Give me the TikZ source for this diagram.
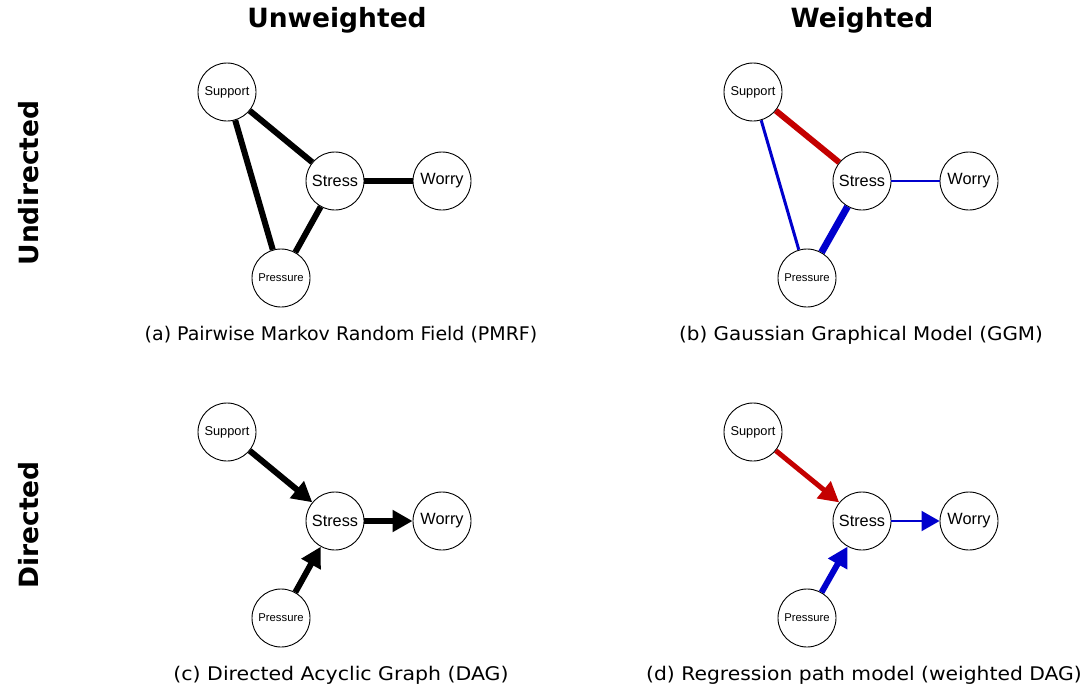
\documentclass[tikz,border=0pt]{standalone}
\usepackage{fontspec}
\usepackage{graphicx}
\setmainfont{DejaVu Sans}
\newfontfamily\arialfont{Liberation Sans}
\usetikzlibrary{arrows.meta}
\definecolor{wred}{RGB}{196,0,0}
\definecolor{wblue}{RGB}{0,0,205}
\newcommand{\capwide}[2]{\scalebox{#1}[1]{#2}}
\tikzset{
  var/.style={circle,draw=black,line width=0.9pt,minimum size=58pt,inner sep=0pt,font=\arialfont\fontsize{16.3}{18}\selectfont},
  supvar/.style={var,font=\arialfont\fontsize{12.8}{14}\selectfont},
  presvar/.style={var,font=\arialfont\fontsize{11.3}{13}\selectfont},
  heading/.style={font=\bfseries\fontsize{26.5}{30}\selectfont},
  caption/.style={font=\fontsize{18.8}{22}\selectfont},
  edge/.style={line width=6pt},
  arr/.style={-{Triangle[length=20pt,width=21pt]}},
}
\begin{document}
\begin{tikzpicture}[x=1pt,y=-1pt]
\useasboundingbox (0,0) rectangle (1088,686);
% headings
\node[heading] (hU) at (337,20) {Unweighted};
\node[heading] (hW) at (862,20) {Weighted};
\node[heading,rotate=90] (hUd) at (29,183) {Undirected};
\node[heading,rotate=90] (hD) at (29,525) {Directed};
% (a)
\node[supvar] (aS) at (227,92) {Support};
\node[var] (aT) at (335,181) {Stress};
\node[var] (aW) at (442,181) {Worry};
\node[presvar] (aP) at (281,278) {Pressure};
\draw[edge] (aS) -- (aT);
\draw[edge] (aS) -- (aP);
\draw[edge] (aT) -- (aP);
\draw[edge] (aT) -- (aW);
\node[caption] (ca) at (341,335) {\capwide{1.01}{(a) Pairwise Markov Random Field (PMRF)}};
% (b)
\node[supvar] (bS) at (753,92) {Support};
\node[var] (bT) at (862,181) {Stress};
\node[var] (bW) at (969,181) {Worry};
\node[presvar] (bP) at (807,278) {Pressure};
\draw[wred,line width=6pt] (bS) -- (bT);
\draw[wblue,line width=3pt] (bS) -- (bP);
\draw[wblue,line width=7pt] (bT) -- (bP);
\draw[wblue,line width=1.6pt] (bT) -- (bW);
\node[caption] (cb) at (861,335) {\capwide{1.06}{(b) Gaussian Graphical Model (GGM)}};
% (c)
\node[supvar] (cS) at (227,432) {Support};
\node[var] (cT) at (335,521) {Stress};
\node[var] (cW) at (442,521) {Worry};
\node[presvar] (cP) at (281,618) {Pressure};
\draw[edge,arr] (cS) -- (cT);
\draw[edge,arr] (cP) -- (cT);
\draw[edge,arr] (cT) -- (cW);
\node[caption] (cc) at (341,675) {\capwide{1.09}{(c) Directed Acyclic Graph (DAG)}};
% (d)
\node[supvar] (dS) at (753,432) {Support};
\node[var] (dT) at (862,521) {Stress};
\node[var] (dW) at (969,521) {Worry};
\node[presvar] (dP) at (807,618) {Pressure};
\draw[wred,line width=5pt,arr] (dS) -- (dT);
\draw[wblue,line width=6pt,arr] (dP) -- (dT);
\draw[wblue,line width=2pt,-{Triangle[length=18pt,width=20pt]}] (dT) -- (dW);
\node[caption] (cd) at (864,675) {\capwide{1.08}{(d) Regression path model (weighted DAG)}};
\end{tikzpicture}
\end{document}
